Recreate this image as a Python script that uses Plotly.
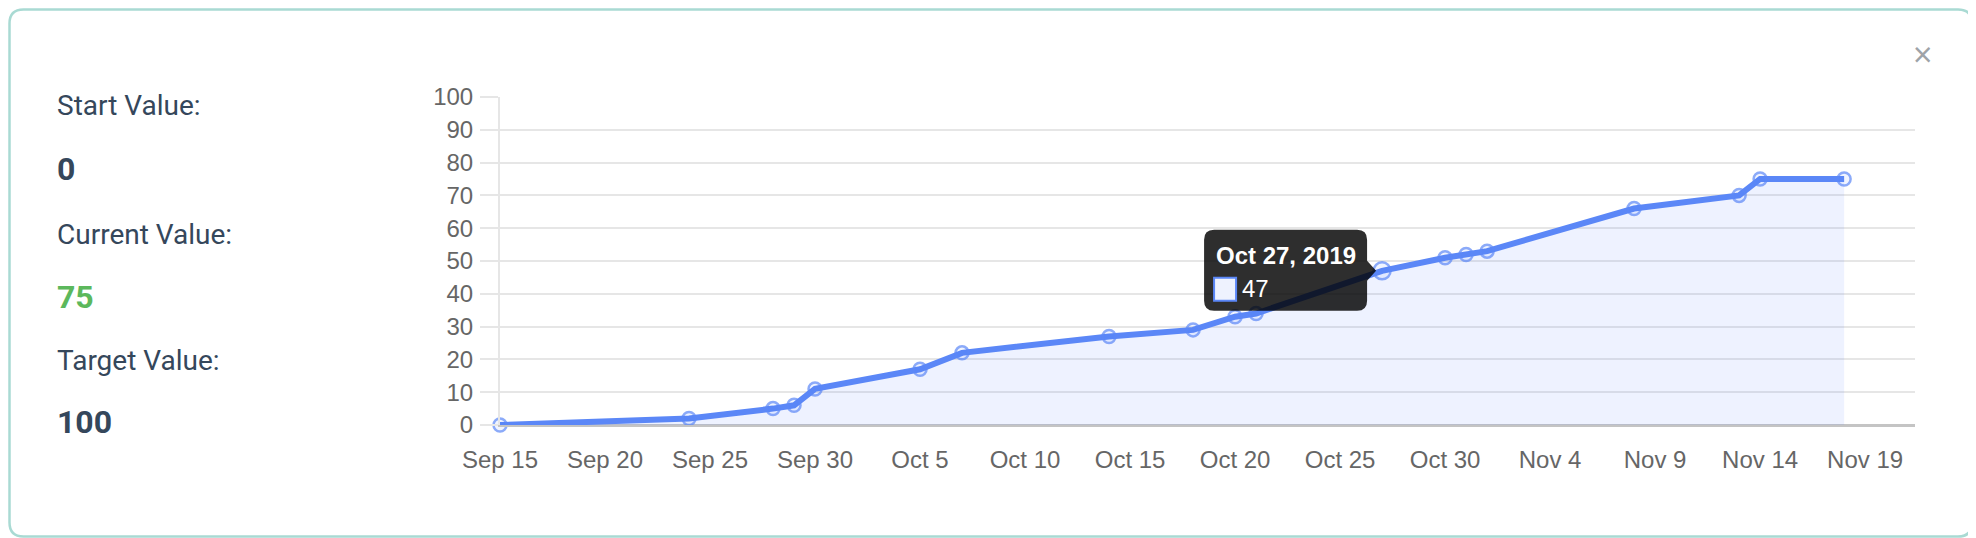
import plotly.graph_objects as go

# progress readings
dates = ["2019-09-15", "2019-09-24", "2019-09-28", "2019-09-29", "2019-09-30",
         "2019-10-05", "2019-10-07", "2019-10-14", "2019-10-18", "2019-10-20",
         "2019-10-21", "2019-10-27", "2019-10-30", "2019-10-31", "2019-11-01",
         "2019-11-08", "2019-11-13", "2019-11-14", "2019-11-18"]
values = [0, 2, 5, 6, 11, 17, 22, 27, 29, 33, 34, 47, 51, 52, 53, 66, 70, 75, 75]

tick_dates = ["2019-09-15", "2019-09-20", "2019-09-25", "2019-09-30", "2019-10-05",
              "2019-10-10", "2019-10-15", "2019-10-20", "2019-10-25", "2019-10-30",
              "2019-11-04", "2019-11-09", "2019-11-14", "2019-11-19"]
tick_labels = ["Sep 15", "Sep 20", "Sep 25", "Sep 30", "Oct 5", "Oct 10", "Oct 15",
               "Oct 20", "Oct 25", "Oct 30", "Nov 4", "Nov 9", "Nov 14", "Nov 19"]

start_value = 0
current_value = 75
target_value = 100

tooltip_date = "2019-10-27"
tooltip_title = "Oct 27, 2019"
tooltip_value = values[dates.index(tooltip_date)]

LINE = "#5b87f7"
TEXT = "#35475b"

# page body has an 8px margin, so the figure starts at (8, 8) on screen
OFF = 8
W, H = 1976 - OFF, 538 - OFF
L, R, T, B = 500 - OFF, 61, 97 - OFF, 113
pw, ph = W - L - R, H - T - B


def px(x):
    # screen x -> paper
    return (x - OFF - L) / pw


def py(y):
    # screen y -> paper
    return 1 - (y - OFF - T) / ph


sizes = [17 if d == tooltip_date else 13 for d in dates]

fig = go.Figure()
fig.add_trace(go.Scatter(
    x=dates, y=values, mode="lines+markers",
    fill="tozeroy", fillcolor="rgba(86,128,255,0.1)",
    line=dict(color=LINE, width=6),
    marker=dict(size=sizes, color="rgba(86,128,255,0.12)", line=dict(color=LINE, width=2.5)),
    cliponaxis=False,
    hoverinfo="skip",
))

# card border with rounded corners
x0, y0, x1, y1, r = 9.5, 9.5, 1972, 536.5, 14
card = (f"M {px(x0 + r)},{py(y0)} L {px(x1 - r)},{py(y0)} Q {px(x1)},{py(y0)} {px(x1)},{py(y0 + r)} "
        f"L {px(x1)},{py(y1 - r)} Q {px(x1)},{py(y1)} {px(x1 - r)},{py(y1)} "
        f"L {px(x0 + r)},{py(y1)} Q {px(x0)},{py(y1)} {px(x0)},{py(y1 - r)} "
        f"L {px(x0)},{py(y0 + r)} Q {px(x0)},{py(y0)} {px(x0 + r)},{py(y0)} Z")

# tooltip box (pixel offsets from the hovered point)
a, b, t, bo, cr = -178, -15, 41, -40, 10
tip = (f"M {a + cr},{t} L {b - cr},{t} Q {b},{t} {b},{t - cr} L {b},10 L -6,0 L {b},-10 "
       f"L {b},{bo + cr} Q {b},{bo} {b - cr},{bo} L {a + cr},{bo} Q {a},{bo} {a},{bo + cr} "
       f"L {a},{t - cr} Q {a},{t} {a + cr},{t} Z")

fig.update_layout(
    width=W, height=H,
    margin=dict(l=L, r=R, t=T, b=B),
    paper_bgcolor="white", plot_bgcolor="white",
    showlegend=False,
    font=dict(family="Liberation Sans, Arial, sans-serif", size=24, color="#666666"),
    shapes=[
        dict(type="path", path=card, xref="paper", yref="paper",
             line=dict(color="#a9dad3", width=2.5), fillcolor="rgba(0,0,0,0)"),
        dict(type="path", path=tip, xref="x", yref="y",
             xsizemode="pixel", ysizemode="pixel",
             xanchor=tooltip_date, yanchor=tooltip_value,
             fillcolor="rgba(0,0,0,0.82)", line=dict(width=0)),
        dict(type="rect", xref="x", yref="y",
             xsizemode="pixel", ysizemode="pixel",
             xanchor=tooltip_date, yanchor=tooltip_value,
             x0=-168, x1=-146, y0=-7, y1=-30,
             fillcolor="#eef2fe", line=dict(color=LINE, width=2)),
    ],
)

fig.update_xaxes(
    type="date", range=["2019-09-15", "2019-11-21 09:00"],
    tickvals=tick_dates, ticktext=tick_labels,
    showgrid=False, showline=True, linecolor="#c4c4c4", linewidth=2,
    ticks="", ticklabelstandoff=12, tickfont=dict(size=24, color="#666666"),
)
fig.update_yaxes(
    range=[0, 100], dtick=10, tick0=0,
    showgrid=True, gridcolor="#e6e6e6", gridwidth=2,
    zeroline=True, zerolinecolor="#c4c4c4", zerolinewidth=2,
    showline=True, linecolor="#e6e6e6", linewidth=2,
    ticks="outside", ticklen=18, tickwidth=2, tickcolor="#e6e6e6",
    ticklabelstandoff=2, tickfont=dict(size=24, color="#666666"),
)

# left side summary
side = [
    ("Start Value:", 105, 28, "normal", TEXT),
    (str(start_value), 169, 32, "bold", TEXT),
    ("Current Value:", 235, 28, "normal", TEXT),
    (str(current_value), 297, 32, "bold", "#5cb85c"),
    ("Target Value:", 360, 28, "normal", TEXT),
    (str(target_value), 422, 32, "bold", TEXT),
]
for txt, yc, size, weight, color in side:
    fig.add_annotation(
        text=txt, xref="paper", yref="paper", x=px(55), y=py(yc),
        xanchor="left", yanchor="middle", showarrow=False,
        font=dict(family="Roboto, sans-serif", size=size, color=color, weight=weight),
    )

# close button
fig.add_annotation(
    text="×", xref="paper", yref="paper", x=px(1923), y=py(54),
    xanchor="center", yanchor="middle", showarrow=False,
    font=dict(family="Open Sans, sans-serif", size=34, color="#9ea3a8"),
)

# tooltip text
fig.add_annotation(
    text=f"<b>{tooltip_title}</b>", x=tooltip_date, y=tooltip_value,
    xanchor="left", yanchor="middle", xshift=-168, yshift=15, showarrow=False,
    font=dict(family="Liberation Sans, Arial, sans-serif", size=24, color="white"),
)
fig.add_annotation(
    text=str(tooltip_value), x=tooltip_date, y=tooltip_value,
    xanchor="left", yanchor="middle", xshift=-142, yshift=-18, showarrow=False,
    font=dict(family="Liberation Sans, Arial, sans-serif", size=24, color="white"),
)

fig.write_html("out.html")
